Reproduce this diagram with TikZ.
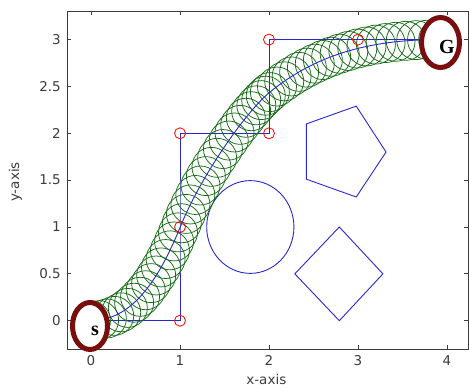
\documentclass[tikz,border=0pt]{standalone}
\usepackage{fontspec}
\setmainfont{Liberation Serif}
\newfontfamily\axfont{DejaVu Sans}
\usetikzlibrary{shapes.geometric}
\definecolor{matblue}{RGB}{40,40,210}
\definecolor{matgreen}{RGB}{22,108,22}
\definecolor{maroon}{RGB}{120,14,14}
\definecolor{axgray}{RGB}{60,60,60}
\tikzset{
  frame/.style={draw=axgray, line width=0.9pt},
  tick/.style={draw=axgray, line width=0.8pt},
  ticklabel/.style={font=\axfont\fontsize{13.5}{15}\selectfont, text=axgray, inner sep=0pt},
  ctrl/.style={draw=matblue, line width=0.9pt},
  obst/.style={draw=matblue, line width=0.9pt},
  redmark/.style={draw=red, line width=0.8pt},
  trajectory/.style={draw=matblue, line width=0.9pt},
  tubecirc/.style={circle, draw=matgreen, line width=0.75pt, minimum size=39pt, inner sep=0pt},
  endpt/.style={ellipse, draw=maroon, fill=white, line width=5pt, inner sep=0pt},
  endlabel/.style={font=\bfseries\fontsize{20}{22}\selectfont, inner sep=0pt}
}
\begin{document}
\begin{tikzpicture}
\useasboundingbox (0,0) rectangle (469pt,388pt);
\begin{scope}[shift={(91pt,67.3pt)}, x=89pt, y=93.7pt]
  % frame
  \coordinate (bl) at (-0.27,-0.302);
  \coordinate (tr) at (4.236,3.305);
  \draw[frame] (bl) rectangle (tr);
  % x ticks
  \foreach \i in {0,1,2,3,4} {
    \coordinate (xb\i) at (\i,-0.302);
    \coordinate (xt\i) at (\i,3.305);
    \draw[tick] (xb\i) -- ++(0,4pt);
    \draw[tick] (xt\i) -- ++(0,-4pt);
    \node[ticklabel] (xl\i) at (\i,-0.43) {\i};
  }
  % y ticks
  \foreach \v/\t [count=\c] in {0/0,0.5/0.5,1/1,1.5/1.5,2/2,2.5/2.5,3/3} {
    \coordinate (yl\c) at (-0.27,\v);
    \coordinate (yr\c) at (4.236,\v);
    \draw[tick] (yl\c) -- ++(4pt,0);
    \draw[tick] (yr\c) -- ++(-4pt,0);
    \node[ticklabel, anchor=east] (ylab\c) at ([xshift=-6pt]yl\c) {\t};
  }
  \node[ticklabel] (xaxis) at (1.97,-0.625) {x-axis};
  \node[ticklabel, rotate=90] (yaxis) at (-0.85,1.48) {y-axis};

  % obstacles
  \draw[obst] (1.79,1.0) ellipse [x radius=0.49, y radius=0.495];
  \draw[obst] (2.42,2.10) -- (2.98,2.29) -- (3.315,1.80) -- (2.98,1.32) -- (2.42,1.51) -- cycle;
  \draw[obst] (2.79,1.0) -- (3.28,0.5) -- (2.79,0.0) -- (2.29,0.5) -- cycle;

  % control polygon
  \coordinate (p0) at (0,0);
  \coordinate (p1) at (1,0);
  \coordinate (p2) at (1,1);
  \coordinate (p3) at (1,2);
  \coordinate (p4) at (2,2);
  \coordinate (p5) at (2,3);
  \coordinate (p6) at (3,3);
  \coordinate (p7) at (4,3);
  \draw[ctrl] (p0) -- (p1) -- (p2) -- (p3) -- (p4) -- (p5) -- (p6) -- (p7);

  % trajectory bezier pieces
  \coordinate (a0) at (0,0);
  \coordinate (a1) at (0.5,0);
  \coordinate (a2) at (0.8,0.52);
  \coordinate (a3) at (1.02,1.04);
  \coordinate (b1) at (1.27,1.60);
  \coordinate (b2) at (1.76,2.2475);
  \coordinate (b3) at (2.01,2.44);
  \coordinate (c1) at (2.51,2.825);
  \coordinate (c2) at (3.1,3.0);
  \coordinate (c3) at (3.9,3.0);

  % tube of circles
  \foreach \n in {0,...,15} {
    \pgfmathsetmacro\t{\n/16}
    \path (a0) .. controls (a1) and (a2) .. (a3) node[tubecirc, pos=\t] (ta\n) {};
  }
  \foreach \n in {0,...,16} {
    \pgfmathsetmacro\t{\n/17}
    \path (a3) .. controls (b1) and (b2) .. (b3) node[tubecirc, pos=\t] (tb\n) {};
  }
  \foreach \n in {0,...,19} {
    \pgfmathsetmacro\t{\n/19}
    \path (b3) .. controls (c1) and (c2) .. (c3) node[tubecirc, pos=\t] (tc\n) {};
  }

  \draw[trajectory] (a0) .. controls (a1) and (a2) .. (a3)
     .. controls (b1) and (b2) .. (b3)
     .. controls (c1) and (c2) .. (c3);

  % red markers
  \foreach \k in {1,2,3,4,5,6} {
    \draw[redmark] (p\k) circle[radius=5.5pt];
  }
\end{scope}
% start and goal
\node[endpt, minimum width=35pt, minimum height=47pt] (S) at (90pt,62pt) {};
\node[endlabel] (slab) at (95pt,57pt) {s};
\node[endpt, minimum width=38pt, minimum height=50pt] (G) at (440.5pt,345.5pt) {};
\node[endlabel] (glab) at (447pt,341pt) {G};
\end{tikzpicture}
\end{document}
